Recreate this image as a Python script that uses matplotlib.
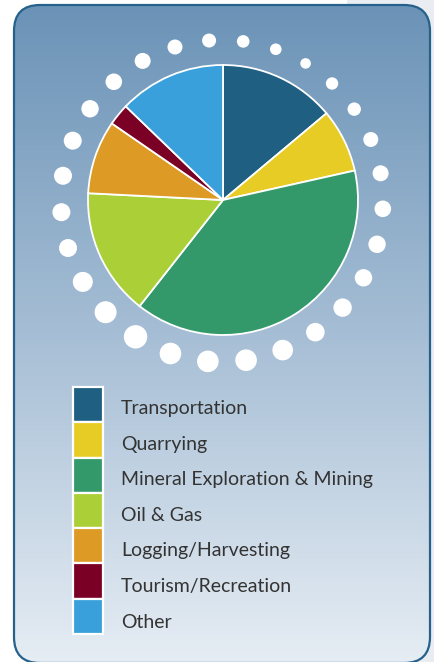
import numpy as np
import matplotlib
matplotlib.use("Agg")
import matplotlib.pyplot as plt
from matplotlib.patches import FancyBboxPatch, Rectangle, Circle
from matplotlib.colors import LinearSegmentedColormap

# ---- data ----
categories = ["Transportation", "Quarrying", "Mineral Exploration & Mining",
              "Oil & Gas", "Logging/Harvesting", "Tourism/Recreation", "Other"]
shares = [13.9, 7.6, 39.1, 15.2, 8.8, 2.6, 12.8]
colors = ["#1f5f82", "#e8cc26", "#33996a", "#abcf37", "#dd9a25", "#7b0025", "#3aa0db"]

# decorative ring of dots (radii in px, clockwise from top)
dot_radii = [7, 6.3, 5.8, 5.3, 6.2, 6.7, 7.5, 8, 8.3, 8.7, 8.7, 9.2, 9.3, 10.3,
             10.8, 10.8, 10.8, 11.7, 11, 10, 9, 9, 9, 9, 8.7, 8.3, 8, 7.5]

W, H = 434, 662
fig = plt.figure(figsize=(W / 100, H / 100), dpi=100)
ax = fig.add_axes([0, 0, 1, 1])

def iy(y):  # image y (top-down) -> data y
    return H - y

# pie
ax.pie(shares, colors=colors, startangle=90, counterclock=False,
       center=(223, iy(200)), radius=135,
       wedgeprops=dict(edgecolor="white", linewidth=1.3, zorder=3))

ax.set_xlim(0, W)
ax.set_ylim(0, H)
ax.set_aspect("equal")
ax.axis("off")

# light grey area at top right outside the panel
ax.add_patch(Rectangle((347, 0), W - 347, H, facecolor="#e9edf1", edgecolor="none", zorder=0))

# panel with gradient
px0, px1 = 14, 430
py_top, py_bot = iy(5), iy(663)
panel = FancyBboxPatch((px0, py_bot), px1 - px0, py_top - py_bot,
                       boxstyle="round,pad=0,rounding_size=26",
                       facecolor="none", edgecolor="#25618a", linewidth=1.6, zorder=2)
ax.add_patch(panel)
cmap = LinearSegmentedColormap.from_list("g", ["#6b93b7", "#a6bed5", "#e6edf4"])
grad = np.linspace(0, 1, 256).reshape(-1, 1)
im = ax.imshow(grad, cmap=cmap, extent=(px0, px1, py_bot, py_top),
               aspect="auto", zorder=1, interpolation="bilinear")
im.set_clip_path(panel)
ax.set_xlim(0, W)
ax.set_ylim(0, H)

# dots ring
cx, cy, R = 222, iy(201), 161
r = np.array(dot_radii)
gap = (2 * np.pi * R - r.sum()) / len(r)
steps = gap + 0.5 * (r + np.roll(r, -1))
ang0 = np.deg2rad(94.6)
angs = ang0 - np.concatenate([[0], np.cumsum(steps[:-1])]) / R
for a, rr in zip(angs, r):
    ax.add_patch(Circle((cx + R * np.cos(a), cy + R * np.sin(a)), rr,
                        facecolor="white", edgecolor="none", zorder=4))

# legend
top, bottom = 387, 634
h = (bottom - top) / len(categories)
font = ["Lato", "DejaVu Sans"]
for i, (lab, col) in enumerate(zip(categories, colors)):
    ax.add_patch(Rectangle((72.5, iy(top + (i + 1) * h)), 30, h,
                           facecolor=col, edgecolor="white", linewidth=1.6, zorder=5))
    ax.text(121, iy(414 + i * 35.6), lab, fontsize=14.0, color="#333333",
            family=font, fontweight="normal", va="baseline", ha="left", zorder=5)

fig.savefig("out.png", dpi=100)
